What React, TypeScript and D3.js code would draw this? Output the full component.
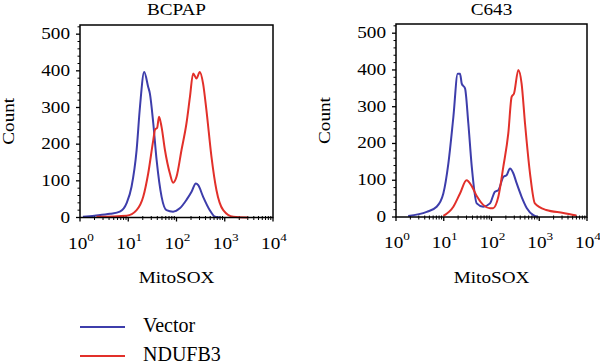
import React from "react";
import * as d3 from "d3";

// flow cytometry histograms
const panelTitles = ["BCPAP", "C643"];
const yTicks = [0, 100, 200, 300, 400, 500];
const xDecades = [0, 1, 2, 3, 4];
const legendLabels = ["Vector", "NDUFB3"];

const bcpapVectorX = [1.15, 2, 4.2, 6.7, 9.3, 11.7, 14.9, 17.5, 21.4, 25.9, 28.1, 33, 38.7, 49, 62, 85, 117, 161, 205, 252, 282, 355, 490, 630, 800];
const bcpapVectorY = [2, 5, 10, 16, 40, 84, 184, 302, 397, 356, 338, 257, 157, 57, 20, 16, 25, 48, 70, 93, 88, 57, 20, 2, 0];
const bcpapNdufX = [2.2, 9.3, 14.9, 20.5, 25.9, 33, 36, 39.8, 43.4, 49, 57.6, 73, 85, 100, 127, 161, 190, 221, 259, 304, 355, 417, 530, 672, 930, 1500, 3000];
const bcpapNdufY = [2, 5, 20, 57, 120, 211, 240, 245, 275, 247, 184, 120, 95, 111, 184, 257, 329, 393, 379, 397, 366, 293, 166, 75, 20, 2, 0];

const c643VectorX = [1.8, 4.4, 7.1, 9.8, 12.5, 15.9, 19.6, 21.9, 23.8, 27.9, 32.7, 38.6, 49, 67, 93, 118, 139, 177, 208, 244, 286, 336, 427, 550, 750, 950];
const c643VectorY = [3, 14, 28, 64, 146, 272, 390, 390, 363, 350, 255, 137, 37, 28, 37, 69, 73, 109, 114, 132, 119, 92, 55, 24, 5, 0];
const c643NdufX = [9.8, 15.9, 21.9, 30, 38.6, 49, 67, 93, 108, 139, 177, 225, 264, 296, 365, 427, 503, 640, 810, 1400, 3200, 6000];
const c643NdufY = [3, 28, 64, 100, 84, 57, 33, 24, 24, 55, 137, 228, 327, 336, 400, 363, 255, 119, 37, 19, 11, 4];

const BLUE = "#3d3dab";
const RED = "#e2302a";
const FONT = "Liberation Serif, DejaVu Serif, serif";
const SX = 1.2; // the figure's type is a bit wider than Times
const txt = { fontFamily: FONT };

const zip = (xs: number[], ys: number[]) => xs.map((x, i) => [x, ys[i]] as [number, number]);

const panels = [
  { title: panelTitles[0], left: 80, right: 273, top: 25, bottom: 217.5, vector: zip(bcpapVectorX, bcpapVectorY), nduf: zip(bcpapNdufX, bcpapNdufY) },
  { title: panelTitles[1], left: 396, right: 587, top: 24, bottom: 217, vector: zip(c643VectorX, c643VectorY), nduf: zip(c643NdufX, c643NdufY) },
];

function Panel({ p }: { p: (typeof panels)[0] }) {
  const x = d3.scaleLog().domain([1, 10000]).range([p.left, p.right]);
  const y = d3.scaleLinear().domain([0, 525]).range([p.bottom, p.top]);
  const line = d3
    .line<[number, number]>()
    .x((d) => x(d[0]))
    .y((d) => y(d[1]))
    .curve(d3.curveMonotoneX);
  const minorY = d3.range(0, 521, 20).filter((v) => v % 100 !== 0);
  const minorX: number[] = [];
  for (let dec = 0; dec < 4; dec++) for (let k = 2; k < 10; k++) minorX.push(k * Math.pow(10, dec));
  const cx = (p.left + p.right) / 2;
  const cy = (p.top + p.bottom) / 2;

  return (
    <g>
      <text transform={`translate(${cx},15) scale(${SX},1)`} textAnchor="middle" fontSize={16} style={txt}>
        {p.title}
      </text>
      <text transform={`translate(${p.left - 66},${cy}) rotate(-90) scale(${SX},1)`} textAnchor="middle" fontSize={16} style={txt}>
        Count
      </text>
      <text transform={`translate(${cx},283) scale(${SX},1)`} textAnchor="middle" fontSize={16} style={txt}>
        MitoSOX
      </text>

      {yTicks.map((t) => (
        <g key={"y" + t}>
          <line x1={p.left - 4} x2={p.left} y1={y(t)} y2={y(t)} stroke="#000" strokeWidth={1.3} />
          <text transform={`translate(${p.left - 10},${y(t) + 5}) scale(${SX},1)`} textAnchor="end" fontSize={16} style={txt}>
            {t}
          </text>
        </g>
      ))}
      {minorY.map((t) => (
        <line key={"my" + t} x1={p.left - 2.5} x2={p.left} y1={y(t)} y2={y(t)} stroke="#000" strokeWidth={1} />
      ))}

      {xDecades.map((dec) => (
        <g key={"x" + dec}>
          <line x1={x(Math.pow(10, dec))} x2={x(Math.pow(10, dec))} y1={p.bottom} y2={p.bottom + 4} stroke="#000" strokeWidth={1.3} />
          <text transform={`translate(${x(Math.pow(10, dec)) + 1},${p.bottom + 31}) scale(${SX},1)`} textAnchor="middle" fontSize={16} style={txt}>
            10
            <tspan fontSize={11} dy={-8}>
              {dec}
            </tspan>
          </text>
        </g>
      ))}
      {minorX.map((v) => (
        <line key={"mx" + v} x1={x(v)} x2={x(v)} y1={p.bottom - 1.5} y2={p.bottom + 2.5} stroke="#000" strokeWidth={1} />
      ))}

      <path d={line(p.vector) ?? ""} fill="none" stroke={BLUE} strokeWidth={2} strokeLinejoin="round" />
      <path d={line(p.nduf) ?? ""} fill="none" stroke={RED} strokeWidth={2} strokeLinejoin="round" />

      <rect x={p.left} y={p.top} width={p.right - p.left} height={p.bottom - p.top} fill="none" stroke="#000" strokeWidth={1.5} />
    </g>
  );
}

export default function App() {
  const legendColors = [BLUE, RED];
  const legendY = d3.scalePoint<string>().domain(legendLabels).range([327, 356]);
  return (
    <div style={{ position: "absolute", left: 0, top: 0 }}>
      <svg width={600} height={364} style={{ display: "block", background: "#fff" }}>
        {panels.map((p) => (
          <Panel key={p.title} p={p} />
        ))}
        {legendLabels.map((lab, i) => (
          <g key={lab}>
            <line x1={80} x2={125} y1={legendY(lab)} y2={legendY(lab)} stroke={legendColors[i]} strokeWidth={2} />
            <text x={143} y={(legendY(lab) ?? 0) + 5} fontSize={20} style={txt}>
              {lab}
            </text>
          </g>
        ))}
      </svg>
    </div>
  );
}
